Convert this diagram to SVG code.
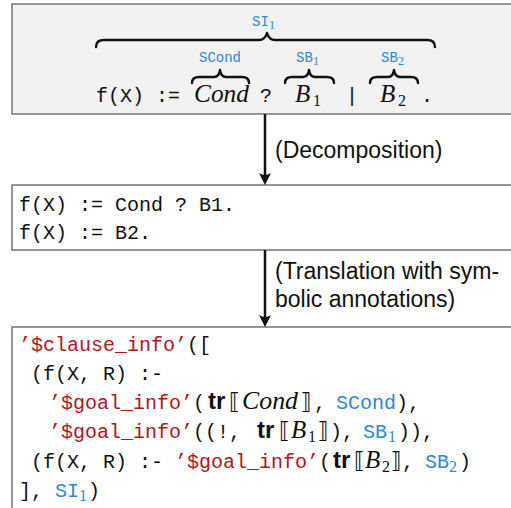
<svg xmlns="http://www.w3.org/2000/svg" width="511" height="508" viewBox="0 0 511 508">
<defs>
<style>
.box{stroke:#7c7c7c;stroke-width:1.6}
.mono{font-family:"Liberation Mono",monospace;font-size:20px;fill:#111}
.lbl{font-family:"Liberation Mono",monospace;font-size:14px;fill:#2e86de}
.sans{font-family:"Liberation Sans",sans-serif;font-size:23px;fill:#111}
.it{font-family:"Liberation Serif",serif;font-style:italic;font-size:25px;fill:#111}
.sub{font-family:"Liberation Serif",serif;font-size:16px;fill:#111}
.ssub{font-family:"Liberation Serif",serif;font-size:12px;fill:#2e86de}
.bold{font-family:"Liberation Sans",sans-serif;font-weight:bold;font-size:24px;fill:#111}
.brk{font-family:"DejaVu Sans",sans-serif;font-size:22px;fill:#111}
.red{fill:#b5141c}
.blue{fill:#2e86de}
.brace{fill:none;stroke:#111;stroke-width:2.4;stroke-linejoin:round;stroke-linecap:round}
.conn{stroke:#111;stroke-width:2.5;fill:none}
</style>
<marker id="arr" viewBox="0 0 14 14" markerWidth="14" markerHeight="14" refX="8" refY="7" orient="auto" markerUnits="userSpaceOnUse">
<path d="M13,7 L1,1 Q5,7 1,13 Z" fill="#111"/>
</marker>
</defs>

<g id="node-source">
<rect class="box" x="12" y="4" width="520" height="110" fill="#f2f2f2"/>
<path class="brace" d="M96,47 Q96,40 104,40 L259,40 Q265,40 267,33 Q269,40 275,40 L427,40 Q435,40 435,47"/>
<text class="lbl" x="252" y="26">SI</text><text class="ssub" x="269" y="29">1</text>
<path class="brace" d="M192,83 Q192,77 199,77 L214,77 Q219,77 220,70 Q221,77 226,77 L242,77 Q249,77 249,83"/>
<text class="lbl" x="199" y="62">SCond</text>
<path class="brace" d="M285,83 Q285,77 292,77 L303,77 Q308,77 309,70 Q310,77 315,77 L327,77 Q334,77 334,83"/>
<text class="lbl" x="296" y="62">SB</text><text class="ssub" x="313" y="65">1</text>
<path class="brace" d="M370,83 Q370,77 377,77 L388,77 Q393,77 394,70 Q395,77 400,77 L411,77 Q418,77 418,83"/>
<text class="lbl" x="381" y="62">SB</text><text class="ssub" x="398" y="65">2</text>
<text class="mono" x="96" y="102">f(X) :=</text>
<text class="it" x="194" y="102" textLength="55" lengthAdjust="spacingAndGlyphs">Cond</text>
<text class="mono" x="260" y="102">?</text>
<text class="it" x="295" y="102">B</text><text class="sub" x="313" y="106">1</text>
<text class="mono" x="346" y="102">|</text>
<text class="it" x="380" y="102">B</text><text class="sub" x="398" y="106">2</text>
<text class="mono" x="421" y="102">.</text>
</g>

<g id="node-decomposed">
<rect class="box" x="12" y="185" width="520" height="65" fill="#ffffff"/>
<text class="mono" x="19" y="211">f(X) := Cond ? B1.</text>
<text class="mono" x="19" y="239">f(X) := B2.</text>
</g>

<g id="node-translated">
<rect class="box" x="12" y="327" width="520" height="200" fill="#ffffff"/>
<text class="mono" x="19" y="351"><tspan class="red">’$clause_info’</tspan>([</text>
<text class="mono" x="31" y="380">(f(X, R) :-</text>

<text class="mono" x="49" y="409"><tspan class="red">’$goal_info’</tspan>(</text>
<text class="bold" x="208" y="409">tr</text>
<text class="brk" x="229" y="409">⟦</text>
<text class="it" x="242" y="409" textLength="56" lengthAdjust="spacingAndGlyphs">Cond</text>
<text class="brk" x="301" y="409">⟧</text>
<text class="mono" x="314" y="409">,</text>
<text class="mono blue" x="336" y="409">SCond</text>
<text class="mono" x="396" y="409">),</text>

<text class="mono" x="49" y="438"><tspan class="red">’$goal_info’</tspan>((!,</text>
<text class="bold" x="257" y="438">tr</text>
<text class="brk" x="279" y="438">⟦</text>
<text class="it" x="291" y="438">B</text><text class="sub" x="308" y="442">1</text>
<text class="brk" x="318" y="438">⟧</text>
<text class="mono" x="330" y="438">),</text>
<text class="mono blue" x="363" y="438">SB</text><text class="sub blue" x="388" y="442">1</text>
<text class="mono" x="398" y="438">)),</text>

<text class="mono" x="31" y="468">(f(X, R) :- <tspan class="red">’$goal_info’</tspan>(</text>
<text class="bold" x="333" y="468">tr</text>
<text class="brk" x="354" y="468">⟦</text>
<text class="it" x="365" y="468">B</text><text class="sub" x="382" y="472">2</text>
<text class="brk" x="391" y="468">⟧</text>
<text class="mono" x="402" y="468">,</text>
<text class="mono blue" x="425" y="468">SB</text><text class="sub blue" x="449" y="472">2</text>
<text class="mono" x="459" y="468">)</text>

<text class="mono" x="19" y="497">],</text>
<text class="mono blue" x="55" y="497">SI</text><text class="sub blue" x="79" y="501">1</text>
<text class="mono" x="88" y="497">)</text>
</g>

<g id="connectors">
<line class="conn" x1="265" y1="114" x2="265" y2="180" marker-end="url(#arr)"/>
<text class="sans" x="275" y="158">(Decomposition)</text>
<line class="conn" x1="265" y1="250" x2="265" y2="322" marker-end="url(#arr)"/>
<text class="sans" x="275" y="279">(Translation with sym-</text>
<text class="sans" x="275" y="307">bolic annotations)</text>
</g>
</svg>
